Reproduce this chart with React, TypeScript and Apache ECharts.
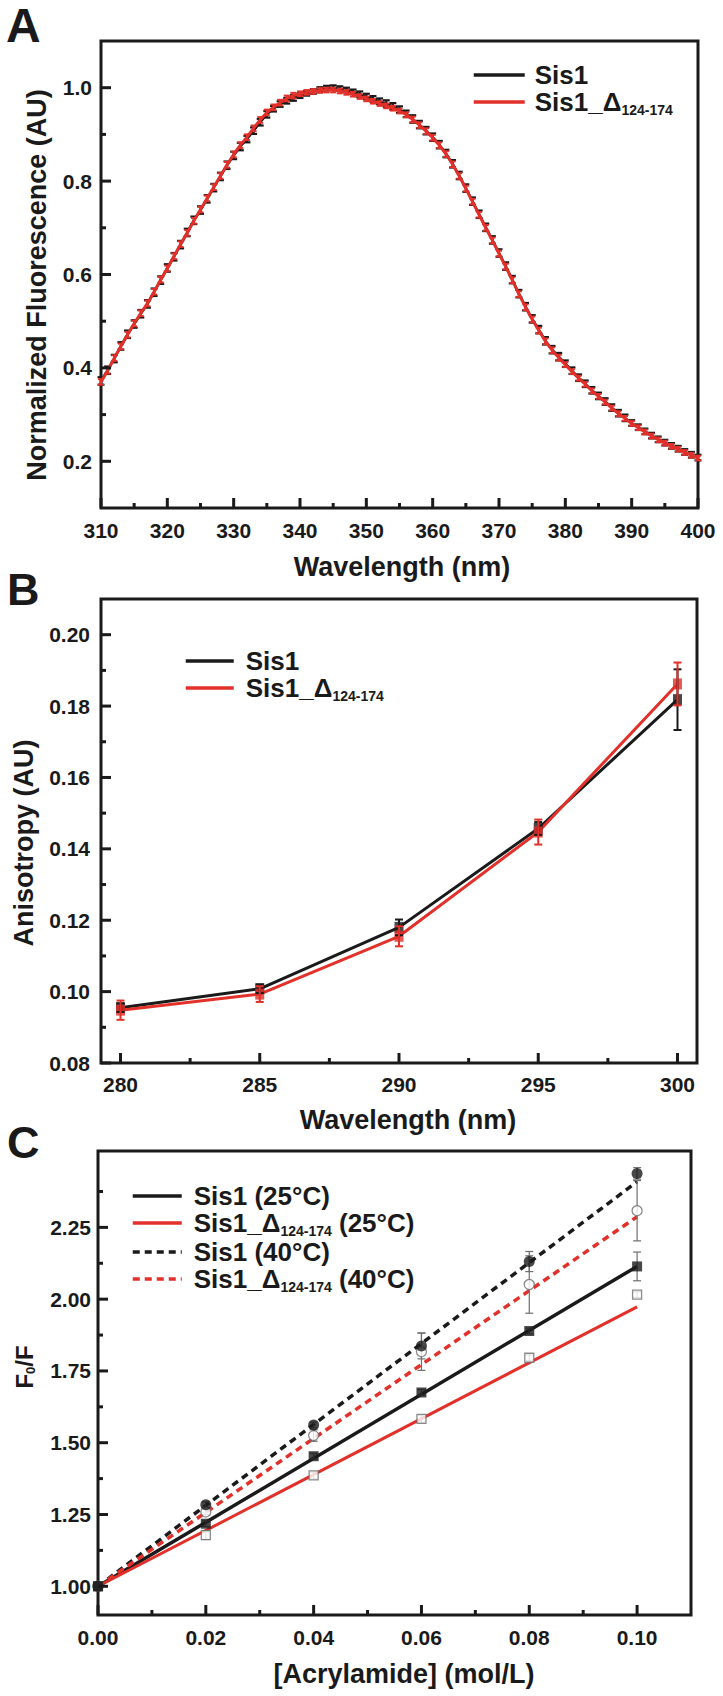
import React, { useEffect, useRef } from 'react';
import * as echarts from 'echarts';

const FONT = "'Liberation Sans', Arial, Helvetica, sans-serif";
const BLACK = '#1a1a1a';
const RED = '#e2302a';
const GRAY = '#6e6e6e';

// ---------- Panel A: emission spectra ----------
const wavelengthA = [
  310, 311, 312, 313, 314, 315, 316, 317, 318, 319,
  320, 321, 322, 323, 324, 325, 326, 327, 328, 329,
  330, 331, 332, 333, 334, 335, 336, 337, 338, 339,
  340, 341, 342, 343, 344, 345, 346, 347, 348, 349,
  350, 351, 352, 353, 354, 355, 356, 357, 358, 359,
  360, 361, 362, 363, 364, 365, 366, 367, 368, 369,
  370, 371, 372, 373, 374, 375, 376, 377, 378, 379,
  380, 381, 382, 383, 384, 385, 386, 387, 388, 389,
  390, 391, 392, 393, 394, 395, 396, 397, 398, 399,
  400,
];
const fluorSis1 = [
  0.372, 0.395, 0.420, 0.447, 0.472, 0.494, 0.516, 0.537, 0.562, 0.588,
  0.614, 0.638, 0.664, 0.690, 0.716, 0.738, 0.762, 0.786, 0.810, 0.834,
  0.855, 0.874, 0.890, 0.908, 0.926, 0.943, 0.955, 0.965, 0.972, 0.978,
  0.983, 0.988, 0.992, 0.996, 0.999, 1.000, 0.998, 0.995, 0.991, 0.986,
  0.981, 0.976, 0.971, 0.966, 0.960, 0.953, 0.944, 0.933, 0.921, 0.908,
  0.894, 0.878, 0.859, 0.837, 0.812, 0.785, 0.757, 0.729, 0.701, 0.674,
  0.646, 0.618, 0.589, 0.559, 0.531, 0.505, 0.482, 0.458, 0.439, 0.424,
  0.409, 0.394, 0.379, 0.366, 0.352, 0.340, 0.328, 0.315, 0.303, 0.293,
  0.282, 0.273, 0.264, 0.255, 0.247, 0.240, 0.233, 0.227, 0.220, 0.214,
  0.208,
];
const fluorSis1Err = [
  0.008, 0.008, 0.008, 0.008, 0.008, 0.008, 0.008, 0.008, 0.008, 0.008,
  0.008, 0.008, 0.008, 0.008, 0.008, 0.008, 0.008, 0.008, 0.008, 0.008,
  0.008, 0.008, 0.007, 0.007, 0.007, 0.007, 0.006, 0.006, 0.006, 0.006,
  0.005, 0.005, 0.005, 0.005, 0.005, 0.005, 0.005, 0.005, 0.005, 0.006,
  0.006, 0.006, 0.006, 0.007, 0.007, 0.007, 0.007, 0.008, 0.008, 0.008,
  0.008, 0.008, 0.008, 0.008, 0.008, 0.008, 0.008, 0.008, 0.008, 0.008,
  0.008, 0.008, 0.008, 0.008, 0.008, 0.008, 0.008, 0.008, 0.008, 0.008,
  0.007, 0.007, 0.007, 0.007, 0.007, 0.007, 0.007, 0.007, 0.007, 0.007,
  0.006, 0.006, 0.006, 0.006, 0.006, 0.006, 0.006, 0.006, 0.006, 0.006,
  0.006,
];
const fluorDelta = [
  0.370, 0.394, 0.421, 0.446, 0.471, 0.495, 0.517, 0.538, 0.563, 0.589,
  0.613, 0.639, 0.665, 0.689, 0.715, 0.739, 0.763, 0.787, 0.811, 0.835,
  0.857, 0.877, 0.894, 0.913, 0.931, 0.947, 0.958, 0.968, 0.977, 0.983,
  0.987, 0.990, 0.992, 0.994, 0.995, 0.995, 0.993, 0.990, 0.986, 0.981,
  0.976, 0.971, 0.966, 0.961, 0.956, 0.950, 0.942, 0.932, 0.920, 0.907,
  0.893, 0.877, 0.858, 0.836, 0.811, 0.784, 0.756, 0.728, 0.700, 0.673,
  0.645, 0.617, 0.588, 0.558, 0.530, 0.504, 0.480, 0.457, 0.438, 0.422,
  0.407, 0.392, 0.378, 0.365, 0.351, 0.339, 0.327, 0.314, 0.302, 0.292,
  0.281, 0.272, 0.263, 0.254, 0.246, 0.239, 0.232, 0.226, 0.219, 0.213,
  0.207,
];
const fluorDeltaErr = [
  0.006, 0.006, 0.006, 0.006, 0.006, 0.006, 0.006, 0.006, 0.006, 0.006,
  0.006, 0.006, 0.006, 0.006, 0.006, 0.006, 0.006, 0.006, 0.006, 0.006,
  0.006, 0.006, 0.006, 0.006, 0.006, 0.006, 0.006, 0.006, 0.006, 0.006,
  0.005, 0.005, 0.005, 0.005, 0.005, 0.005, 0.005, 0.005, 0.005, 0.005,
  0.005, 0.005, 0.005, 0.005, 0.005, 0.005, 0.005, 0.006, 0.006, 0.006,
  0.006, 0.006, 0.006, 0.006, 0.006, 0.006, 0.006, 0.006, 0.006, 0.006,
  0.006, 0.006, 0.006, 0.006, 0.006, 0.006, 0.006, 0.006, 0.006, 0.006,
  0.005, 0.005, 0.005, 0.005, 0.005, 0.005, 0.005, 0.005, 0.005, 0.005,
  0.005, 0.005, 0.005, 0.005, 0.005, 0.005, 0.005, 0.005, 0.005, 0.005,
  0.005,
];
const rangeAx = [310, 400];
const rangeAy = [0.1, 1.1];
const ticksAx = [310, 320, 330, 340, 350, 360, 370, 380, 390, 400];
const minorAx = [315, 325, 335, 345, 355, 365, 375, 385, 395];
const ticksAy = [0.2, 0.4, 0.6, 0.8, 1.0];
const minorAy = [0.3, 0.5, 0.7, 0.9];

// ---------- Panel B: anisotropy ----------
const wavelengthB = [280, 285, 290, 295, 300];
const anisoSis1 = [0.0955, 0.1008, 0.1180, 0.1457, 0.1818];
const anisoSis1Err = [0.0012, 0.0012, 0.0022, 0.0018, 0.0085];
const anisoDelta = [0.0948, 0.0993, 0.1155, 0.1447, 0.1862];
const anisoDeltaErr = [0.0027, 0.0022, 0.0028, 0.0035, 0.006];
const rangeBx = [279.3, 300.7];
const rangeBy = [0.08, 0.21];
const ticksBx = [280, 285, 290, 295, 300];
const minorBx = [282.5, 287.5, 292.5, 297.5];
const ticksBy = [0.08, 0.10, 0.12, 0.14, 0.16, 0.18, 0.20];
const minorBy = [0.09, 0.11, 0.13, 0.15, 0.17, 0.19];

// ---------- Panel C: Stern-Volmer quenching ----------
const acrylamide = [0, 0.02, 0.04, 0.06, 0.08, 0.10];
const sis1At25 = [1.0, 1.218, 1.453, 1.675, 1.889, 2.114];
const sis1At25Err = [0, 0.01, 0.01, 0.01, 0.01, 0.05];
const deltaAt25 = [1.0, 1.178, 1.386, 1.583, 1.796, 2.016];
const deltaAt25Err = [0, 0.015, 0.012, 0.012, 0.01, 0.01];
const sis1At40 = [1.0, 1.284, 1.562, 1.837, 2.131, 2.438];
const sis1At40Err = [0, 0.01, 0.01, 0.045, 0.035, 0.02];
const deltaAt40 = [1.0, 1.259, 1.525, 1.817, 2.051, 2.308];
const deltaAt40Err = [0, 0.01, 0.02, 0.065, 0.1, 0.105];
const fitX = [0, 0.1];
const fitSis1At25 = [1.0, 2.114];
const fitDeltaAt25 = [1.0, 1.973];
const fitSis1At40 = [1.0, 2.409];
const fitDeltaAt40 = [1.0, 2.287];
const rangeCx = [0, 0.11];
const rangeCy = [0.9, 2.516];
const ticksCx = [0, 0.02, 0.04, 0.06, 0.08, 0.10];
const minorCx = [0.01, 0.03, 0.05, 0.07, 0.09];
const ticksCy = [1.0, 1.25, 1.5, 1.75, 2.0, 2.25];
const minorCy = [1.125, 1.375, 1.625, 1.875, 2.125, 2.375];

const NAME_SIS1 = 'Sis1';
const NAME_DELTA = 'Sis1_Δ124-174';
const NAME_C = ['Sis1 (25°C)', 'Sis1_Δ124-174 (25°C)', 'Sis1 (40°C)', 'Sis1_Δ124-174 (40°C)'];

const pairs = (xs: number[], ys: number[]) => xs.map((x, i) => [x, ys[i]]);
const triples = (xs: number[], ys: number[], es: number[]) => xs.map((x, i) => [x, ys[i], es[i]]);

const errBar = (color: string, width: number, cap: number) => (params: any, api: any) => {
  const x = api.value(0);
  const y = api.value(1);
  const e = api.value(2);
  if (!(e > 0)) return { type: 'group', children: [] };
  const hi = api.coord([x, y + e]);
  const lo = api.coord([x, y - e]);
  const h = cap / 2;
  const style = { stroke: color, lineWidth: width, fill: null };
  return {
    type: 'group',
    children: [
      { type: 'line', shape: { x1: hi[0], y1: hi[1], x2: lo[0], y2: lo[1] }, style },
      { type: 'line', shape: { x1: hi[0] - h, y1: hi[1], x2: hi[0] + h, y2: hi[1] }, style },
      { type: 'line', shape: { x1: lo[0] - h, y1: lo[1], x2: lo[0] + h, y2: lo[1] }, style },
    ],
  };
};

// inward tick marks placed through the axes' scales: [x, y, lengthPx, direction(0 = rightwards, 1 = upwards)]
const tickMarks = (params: any, api: any) => {
  const p = api.coord([api.value(0), api.value(1)]);
  const len = api.value(2);
  const up = api.value(3) === 1;
  return {
    type: 'line',
    shape: up
      ? { x1: p[0], y1: p[1], x2: p[0], y2: p[1] - len }
      : { x1: p[0], y1: p[1], x2: p[0] + len, y2: p[1] },
    style: { stroke: BLACK, lineWidth: 3 },
  };
};
const tickData = (rx: number[], ry: number[], mx: number[], nx: number[], my: number[], ny: number[]) => [
  ...mx.map((v) => [v, ry[0], 10, 1]),
  ...nx.map((v) => [v, ry[0], 5, 1]),
  ...my.map((v) => [rx[0], v, 10, 0]),
  ...ny.map((v) => [rx[0], v, 5, 0]),
];

const labelStyle = { color: BLACK, fontSize: 21, fontWeight: 'bold' as const, fontFamily: FONT };

function makeAxis(
  dim: 'x' | 'y', gi: number, range: number[], major: number[],
  fmt: (v: number) => string, margin: number, name: string, nameGap: number, nameStyle: any,
) {
  const axis: any = {
    type: 'value', gridIndex: gi, min: range[0], max: range[1], position: dim === 'x' ? 'bottom' : 'left',
    axisLine: { show: false, onZero: false },
    splitLine: { show: false },
    axisTick: { show: false },
    axisLabel: { show: true, customValues: major, formatter: fmt, margin, showMinLabel: true, showMaxLabel: true, ...labelStyle },
  };
  if (name) {
    Object.assign(axis, {
      name, nameLocation: 'middle', nameGap,
      nameTextStyle: { color: BLACK, fontWeight: 'bold', fontFamily: FONT, fontSize: 27, ...nameStyle },
    });
  }
  return axis;
}

const legendFmt = (name: string) => {
  const i = name.indexOf('Δ124-174');
  if (i < 0) return `{m|${name}}`;
  const pre = name.slice(0, i + 1);
  const post = name.slice(i + 8);
  return `{m|${pre}}{s|124-174}` + (post ? `{m|${post}}` : '');
};
const legendRich = {
  m: { fontSize: 26, fontWeight: 'bold', fontFamily: FONT, color: BLACK, lineHeight: 30 },
  s: { fontSize: 14, fontWeight: 'bold', fontFamily: FONT, color: BLACK, lineHeight: 14, verticalAlign: 'bottom' },
};
const makeLegend = (data: string[], left: number, top: number, itemWidth: number, lw: number, pad: number) => ({
  data, left, top, orient: 'vertical', itemWidth, itemHeight: 2, itemGap: 1, selectedMode: false,
  padding: 0,
  formatter: legendFmt,
  lineStyle: { width: lw },
  itemStyle: { opacity: 0 },
  textStyle: { rich: legendRich, padding: [0, 0, 0, pad] },
});

const panelLabel = (t: string, x: number, y: number, size: number) => ({
  type: 'text', x, y, silent: true,
  style: {
    text: t, fontSize: size, fontWeight: 'bold', fontFamily: FONT, fill: BLACK,
    align: 'left', verticalAlign: 'middle', textAlign: 'left', textVerticalAlign: 'middle',
  },
});

// rotated y-axis title, centred on (x, y)
const yTitle = (text: string, x: number, y: number, size: number, rich?: any) => ({
  type: 'text', x, y, rotation: Math.PI / 2, silent: true,
  style: {
    text, fontSize: size, fontWeight: 'bold', fontFamily: FONT, fill: BLACK,
    align: 'center', verticalAlign: 'middle', textAlign: 'center', textVerticalAlign: 'middle',
    ...(rich ? { rich } : {}),
  },
});

export default function App() {
  const ref = useRef<HTMLDivElement>(null);
  useEffect(() => {
    if (!ref.current) return;
    const chart = echarts.init(ref.current, undefined, { renderer: 'svg' });

    const f1 = (v: number) => v.toFixed(1);
    const f2 = (v: number) => v.toFixed(2);
    const f0 = (v: number) => String(v);

    const gridStyle = { show: true, borderColor: BLACK, borderWidth: 3, backgroundColor: 'transparent' };
    const tickSeries = (idx: number, data: number[][]) => ({
      name: `ticks ${idx}`, type: 'custom', xAxisIndex: idx, yAxisIndex: idx, data,
      renderItem: tickMarks, encode: { x: 0, y: 1 }, z: 8, silent: true, clip: false,
    });

    const option: any = {
      animation: false,
      backgroundColor: '#ffffff',
      grid: [
        { left: 101, top: 41, width: 597, height: 467, ...gridStyle },
        { left: 101, top: 599, width: 596, height: 464, ...gridStyle },
        { left: 98, top: 1151, width: 593, height: 464, ...gridStyle },
      ],
      xAxis: [
        makeAxis('x', 0, rangeAx, ticksAx, f0, 12, 'Wavelength (nm)', 45, { padding: [0, 0, 0, 5] }),
        makeAxis('x', 1, rangeBx, ticksBx, f0, 11, 'Wavelength (nm)', 43, { padding: [0, 0, 0, 18] }),
        makeAxis('x', 2, rangeCx, ticksCx, f2, 12, '[Acrylamide] (mol/L)', 45, { padding: [0, 0, 0, 19] }),
      ],
      yAxis: [
        makeAxis('y', 0, rangeAy, ticksAy, f1, 9, '', 0, {}),
        makeAxis('y', 1, rangeBy, ticksBy, f2, 11, '', 0, {}),
        makeAxis('y', 2, rangeCy, ticksCy, f2, 7, '', 0, {}),
      ],
      legend: [
        makeLegend([NAME_SIS1, NAME_DELTA], 472, 62, 51, 3.5, 5),
        makeLegend([NAME_SIS1, NAME_DELTA], 184, 648, 48, 3.5, 7),
        makeLegend(NAME_C, 131, 1183, 49, 3.5, 7),
      ],
      graphic: [
        panelLabel('A', 6, 25, 48),
        panelLabel('B', 7, 589, 45),
        panelLabel('C', 7, 1142, 45),
        yTitle('Normalized Fluorescence (AU)', 37, 285, 27),
        yTitle('Anisotropy (AU)', 24, 843, 27),
        yTitle('{a|F}{s|0}{a|/F}', 24, 1367, 24, {
          a: { fontSize: 24, fontWeight: 'bold', fontFamily: FONT, fill: BLACK, color: BLACK, lineHeight: 26 },
          s: { fontSize: 13, fontWeight: 'bold', fontFamily: FONT, fill: BLACK, color: BLACK, lineHeight: 13, verticalAlign: 'bottom' },
        }),
      ],
      series: [
        // tick marks (inward)
        tickSeries(0, tickData(rangeAx, rangeAy, ticksAx, minorAx, ticksAy, minorAy)),
        tickSeries(1, tickData(rangeBx, rangeBy, ticksBx, minorBx, ticksBy, minorBy)),
        tickSeries(2, tickData(rangeCx, rangeCy, ticksCx, minorCx, ticksCy, minorCy)),

        // Panel A
        { name: NAME_SIS1, type: 'line', xAxisIndex: 0, yAxisIndex: 0, data: pairs(wavelengthA, fluorSis1),
          symbol: 'none', lineStyle: { color: BLACK, width: 2.5 }, itemStyle: { color: BLACK }, z: 2 },
        { name: 'Sis1 error', type: 'custom', xAxisIndex: 0, yAxisIndex: 0, data: triples(wavelengthA, fluorSis1, fluorSis1Err),
          renderItem: errBar(BLACK, 2.2, 7), encode: { x: 0, y: 1 }, z: 3, silent: true },
        { name: NAME_DELTA, type: 'line', xAxisIndex: 0, yAxisIndex: 0, data: pairs(wavelengthA, fluorDelta),
          symbol: 'none', lineStyle: { color: RED, width: 3 }, itemStyle: { color: RED }, z: 4 },
        { name: 'Sis1_Δ error', type: 'custom', xAxisIndex: 0, yAxisIndex: 0, data: triples(wavelengthA, fluorDelta, fluorDeltaErr),
          renderItem: errBar(RED, 2, 6), encode: { x: 0, y: 1 }, z: 5, silent: true },

        // Panel B
        { name: NAME_SIS1, type: 'line', xAxisIndex: 1, yAxisIndex: 1, data: pairs(wavelengthB, anisoSis1),
          symbol: 'none', lineStyle: { color: BLACK, width: 3 }, itemStyle: { color: BLACK }, z: 2 },
        { name: NAME_DELTA, type: 'line', xAxisIndex: 1, yAxisIndex: 1, data: pairs(wavelengthB, anisoDelta),
          symbol: 'none', lineStyle: { color: RED, width: 3 }, itemStyle: { color: RED }, z: 3 },
        { name: 'Sis1 B points', type: 'scatter', xAxisIndex: 1, yAxisIndex: 1, data: pairs(wavelengthB, anisoSis1),
          symbol: 'rect', symbolSize: [9, 11], itemStyle: { color: BLACK }, z: 4, silent: true },
        { name: 'Sis1_Δ B points', type: 'scatter', xAxisIndex: 1, yAxisIndex: 1, data: pairs(wavelengthB, anisoDelta),
          symbol: 'rect', symbolSize: [9, 11], itemStyle: { color: RED }, z: 5, silent: true },
        { name: 'Sis1 B error', type: 'custom', xAxisIndex: 1, yAxisIndex: 1, data: triples(wavelengthB, anisoSis1, anisoSis1Err),
          renderItem: errBar(BLACK, 2, 8), encode: { x: 0, y: 1 }, z: 6, silent: true },
        { name: 'Sis1_Δ B error', type: 'custom', xAxisIndex: 1, yAxisIndex: 1, data: triples(wavelengthB, anisoDelta, anisoDeltaErr),
          renderItem: errBar(RED, 2, 8), encode: { x: 0, y: 1 }, z: 6, silent: true },

        // Panel C fits
        { name: NAME_C[0], type: 'line', xAxisIndex: 2, yAxisIndex: 2, data: pairs(fitX, fitSis1At25),
          symbol: 'none', lineStyle: { color: BLACK, width: 3.5 }, itemStyle: { color: BLACK }, z: 2 },
        { name: NAME_C[1], type: 'line', xAxisIndex: 2, yAxisIndex: 2, data: pairs(fitX, fitDeltaAt25),
          symbol: 'none', lineStyle: { color: RED, width: 3 }, itemStyle: { color: RED }, z: 2 },
        { name: NAME_C[2], type: 'line', xAxisIndex: 2, yAxisIndex: 2, data: pairs(fitX, fitSis1At40),
          symbol: 'none', lineStyle: { color: BLACK, width: 3.5, type: [7, 5] }, itemStyle: { color: BLACK }, z: 2 },
        { name: NAME_C[3], type: 'line', xAxisIndex: 2, yAxisIndex: 2, data: pairs(fitX, fitDeltaAt40),
          symbol: 'none', lineStyle: { color: RED, width: 3.5, type: [7, 5] }, itemStyle: { color: RED }, z: 2 },
        // Panel C error bars
        { name: 'C err 1', type: 'custom', xAxisIndex: 2, yAxisIndex: 2, data: triples(acrylamide, sis1At25, sis1At25Err),
          renderItem: errBar(GRAY, 1.2, 8), encode: { x: 0, y: 1 }, z: 3, silent: true },
        { name: 'C err 2', type: 'custom', xAxisIndex: 2, yAxisIndex: 2, data: triples(acrylamide, deltaAt25, deltaAt25Err),
          renderItem: errBar(GRAY, 1.2, 8), encode: { x: 0, y: 1 }, z: 3, silent: true },
        { name: 'C err 3', type: 'custom', xAxisIndex: 2, yAxisIndex: 2, data: triples(acrylamide, sis1At40, sis1At40Err),
          renderItem: errBar(GRAY, 1.2, 8), encode: { x: 0, y: 1 }, z: 3, silent: true },
        { name: 'C err 4', type: 'custom', xAxisIndex: 2, yAxisIndex: 2, data: triples(acrylamide, deltaAt40, deltaAt40Err),
          renderItem: errBar(GRAY, 1.2, 8), encode: { x: 0, y: 1 }, z: 3, silent: true },
        // Panel C points
        { name: 'C pts 2', type: 'scatter', xAxisIndex: 2, yAxisIndex: 2, data: pairs(acrylamide, deltaAt25),
          symbol: 'rect', symbolSize: 9, itemStyle: { color: '#ffffff', borderColor: GRAY, borderWidth: 1.3 }, z: 4, silent: true },
        { name: 'C pts 4', type: 'scatter', xAxisIndex: 2, yAxisIndex: 2, data: pairs(acrylamide, deltaAt40),
          symbol: 'circle', symbolSize: 10, itemStyle: { color: '#ffffff', borderColor: GRAY, borderWidth: 1.3 }, z: 4, silent: true },
        { name: 'C pts 1', type: 'scatter', xAxisIndex: 2, yAxisIndex: 2, data: pairs(acrylamide, sis1At25),
          symbol: 'rect', symbolSize: 10, itemStyle: { color: BLACK }, z: 5, silent: true },
        { name: 'C pts 3', type: 'scatter', xAxisIndex: 2, yAxisIndex: 2, data: pairs(acrylamide, sis1At40),
          symbol: 'circle', symbolSize: 11, itemStyle: { color: BLACK }, z: 5, silent: true },
      ],
    };
    chart.setOption(option);
    return () => chart.dispose();
  }, []);
  return (
    <div
      ref={ref}
      style={{ position: 'absolute', left: 0, top: 0, width: 723, height: 1696, background: '#fff' }}
    />
  );
}
